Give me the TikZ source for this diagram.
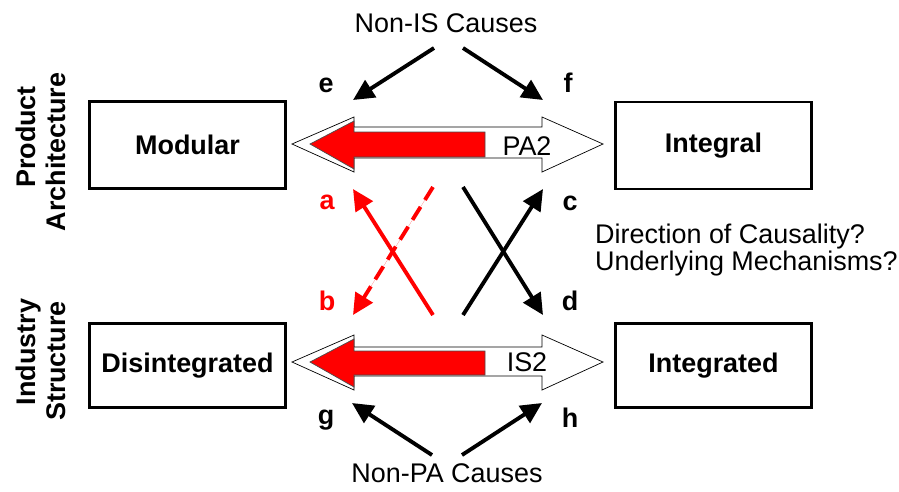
\documentclass[tikz,border=0pt]{standalone}
\usepackage{fontspec}
\setmainfont{Liberation Sans}
\usetikzlibrary{arrows.meta}
\definecolor{pred}{RGB}{255,0,0}
\tikzset{
  box/.style={draw=black, line width=2.5pt, minimum width=5.88cm, inner sep=0pt, font=\bfseries},
  lbl/.style={font=\bfseries, inner sep=0pt},
  causal/.style={line width=3.3pt, -{Triangle[length=18pt,width=17pt]}},
  bigarrow/.style={draw=black, line width=0.6pt, fill=white},
  redarrow/.style={draw=black!70, line width=0.6pt, fill=pred},
  side/.style={font=\bfseries, rotate=90, anchor=base, inner sep=0pt}
}
\begin{document}
\begin{tikzpicture}[x=0.03cm, y=-0.03cm, every node/.style={font=\fontsize{23}{27}\selectfont}]
\useasboundingbox (0,0) rectangle (899,491);
% boxes
\node[box, minimum height=2.61cm, font=\fontsize{23}{27}\selectfont\bfseries] (mod) at (187.5,145) {Modular};
\node[box, minimum height=2.61cm, font=\fontsize{23}{27}\selectfont\bfseries] (int) at (713.5,145.5) {Integral};
\node[box, minimum height=2.52cm, font=\fontsize{23}{27}\selectfont\bfseries] (dis) at (187.5,365.5) {Disintegrated};
\node[box, minimum height=2.52cm, font=\fontsize{23}{27}\selectfont\bfseries] (ing) at (713.5,365.5) {Integrated};
% side labels
\node[side, font=\fontsize{23}{27}\selectfont\bfseries] (pa1) at (35,137) {Product};
\node[side, font=\fontsize{23}{27}\selectfont\bfseries] (pa2) at (65,152) {Architecture};
\node[side, font=\fontsize{23}{27}\selectfont\bfseries] (is1) at (35,352) {Industry};
\node[side, font=\fontsize{23}{27}\selectfont\bfseries] (is2) at (65,361) {Structure};
% PA2 double arrow
\draw[bigarrow] (292,144) -- (354,117) -- (354,127) -- (542,127) -- (542,117) -- (603,144) -- (542,172) -- (542,158) -- (354,158) -- (354,172) -- cycle;
\draw[redarrow] (310,144) -- (354,121) -- (354,132) -- (485,132) -- (485,157) -- (354,157) -- (354,169) -- cycle;
\node[inner sep=0pt] (pa) at (527,146) {PA2};
% IS2 double arrow
\draw[bigarrow] (292,362) -- (354,335) -- (354,347) -- (542,347) -- (542,335) -- (603,362) -- (542,390) -- (542,376) -- (354,376) -- (354,390) -- cycle;
\draw[redarrow] (310,362) -- (354,339) -- (354,351) -- (485,351) -- (485,375) -- (354,375) -- (354,387) -- cycle;
\node[inner sep=0pt] (is) at (527,362) {IS2};
% causes
\node[anchor=base, inner sep=0pt] (nis) at (446,32) {Non-IS Causes};
\node[anchor=base, inner sep=0pt] (npa) at (447,482) {Non-PA Causes};
% letters
\node[lbl, font=\fontsize{23}{27}\selectfont\bfseries] (e) at (326,85) {e};
\node[lbl, font=\fontsize{23}{27}\selectfont\bfseries] (f) at (568,83) {f};
\node[lbl, font=\fontsize{23}{27}\selectfont\bfseries, text=pred] (a) at (327,202) {a};
\node[lbl, font=\fontsize{23}{27}\selectfont\bfseries] (c) at (570,203) {c};
\node[lbl, font=\fontsize{23}{27}\selectfont\bfseries, text=pred] (b) at (327,301) {b};
\node[lbl, font=\fontsize{23}{27}\selectfont\bfseries] (d) at (570,301) {d};
\node[lbl, font=\fontsize{23}{27}\selectfont\bfseries] (g) at (326,420) {g};
\node[lbl, font=\fontsize{23}{27}\selectfont\bfseries] (h) at (570,418) {h};
% question text
\node[anchor=base west, inner sep=0pt] (q1) at (595,243) {Direction of Causality?};
\node[anchor=base west, inner sep=0pt] (q2) at (595,270) {Underlying Mechanisms?};
% arrow coordinates
\coordinate (t1) at (434,48);
\coordinate (t2) at (463,48);
\coordinate (te) at (353,100);
\coordinate (tf) at (543,100);
\coordinate (b1) at (432,455);
\coordinate (b2) at (462,455);
\coordinate (bg) at (352,403);
\coordinate (bh) at (542,403);
\coordinate (ra0) at (433,315);
\coordinate (ra1) at (353,189);
\coordinate (rb0) at (433,187);
\coordinate (rb1) at (353,315);
\coordinate (kc0) at (463,315);
\coordinate (kc1) at (543,189);
\coordinate (kd0) at (463,187);
\coordinate (kd1) at (543,315);
\draw[causal] (t1) -- (te);
\draw[causal] (t2) -- (tf);
\draw[causal] (b1) -- (bg);
\draw[causal] (b2) -- (bh);
\draw[causal, draw=pred, fill=pred] (ra0) -- (ra1);
\draw[causal, draw=pred, fill=pred, dash pattern=on 13pt off 7pt] (rb0) -- (rb1);
\draw[causal] (kd0) -- (kd1);
\draw[causal] (kc0) -- (kc1);
\end{tikzpicture}
\end{document}
